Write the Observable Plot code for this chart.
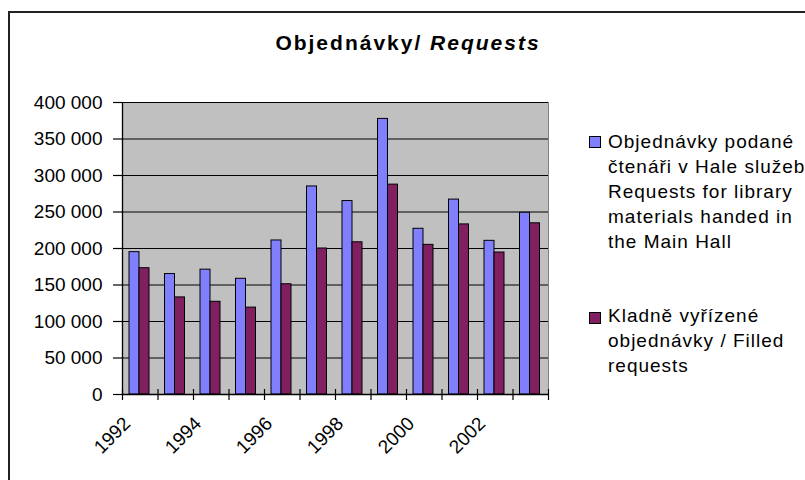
<!DOCTYPE html>
<html>
<head>
<meta charset="utf-8">
<script src="https://cdn.jsdelivr.net/npm/d3@7"></script>
<script src="https://cdn.jsdelivr.net/npm/@observablehq/plot@0.6"></script>
<style>
  body { margin: 0; background: #fff; }
  #wrap { position: relative; width: 805px; height: 480px; overflow: hidden; background: #fff;
          font-family: "Liberation Sans", Arial, sans-serif; color: #000; }
  #border { position: absolute; left: 8px; top: 11px; width: 900px; height: 600px;
            border-left: 2px solid #222; border-top: 2px solid #222; }
  #chart { position: absolute; left: 0; top: 0; }
  #title { position: absolute; left: 0; width: 816px; top: 30px; text-align: center;
           font-size: 21px; font-weight: bold; line-height: 26px; letter-spacing: 2px; }
  .leg { position: absolute; left: 608px; font-size: 19px; line-height: 25px; letter-spacing: 1px; white-space: nowrap; }
  .sw { position: absolute; left: 589px; width: 12px; height: 12px; border: 1px solid #000; box-sizing: border-box; }
</style>
</head>
<body>
<div id="wrap">
  <div id="border"></div>
  <div id="chart"></div>
  <div id="title">Objednávky/ <i>Requests</i></div>
</div>
<script>
const years = [1992, 1993, 1994, 1995, 1996, 1997, 1998, 1999, 2000, 2001, 2002, 2003];
const requested = [195000, 165000, 171000, 158500, 211000, 285000, 265000, 377500, 227000, 267000, 210500, 249000];
const filled = [173000, 133000, 127000, 119000, 151000, 200000, 208500, 287500, 205000, 233000, 194500, 234500];
const labelYears = [1992, 1994, 1996, 1998, 2000, 2002];
const yTicks = [0, 50000, 100000, 150000, 200000, 250000, 300000, 350000, 400000];
const seriesNames = [
  ["Objednávky podané", "čtenáři v Hale služeb", "Requests for library", "materials handed in", "the Main Hall"],
  ["Kladně vyřízené", "objednávky / Filled", "requests"]
];
const seriesColors = ["#8080ff", "#802060"];

const reqData = years.map((y, i) => ({year: y, value: requested[i]}));
const filData = years.map((y, i) => ({year: y, value: filled[i]}));
const boundaries = years.concat([years[years.length - 1] + 1]);
const fmt = d => d3.format(",")(d).replace(/,/g, " ");

const chart = Plot.plot({
  width: 805,
  height: 480,
  marginLeft: 122,
  marginRight: 257,
  marginTop: 102,
  marginBottom: 86,
  style: {fontFamily: "'Liberation Sans', Arial, sans-serif", fontSize: "19px", color: "#000", background: "transparent", overflow: "visible"},
  x: {type: "linear", domain: [1992, 2004], label: null},
  y: {domain: [0, 400000], label: null},
  marks: [
    Plot.frame({fill: "#c0c0c0", stroke: "#808080"}),
    Plot.gridY(yTicks, {stroke: "#000", strokeOpacity: 1, strokeWidth: 1.2}),
    Plot.rectY(reqData, {x: "year", interval: 1, y: "value", fill: seriesColors[0], stroke: "#000", strokeWidth: 1, insetLeft: 7, insetRight: 18.5}),
    Plot.rectY(filData, {x: "year", interval: 1, y: "value", fill: seriesColors[1], stroke: "#000", strokeWidth: 1, insetLeft: 17, insetRight: 8.5}),
    Plot.ruleY([0], {stroke: "#000", strokeWidth: 1.3}),
    Plot.ruleX([1992], {stroke: "#000", strokeWidth: 1.3}),
    Plot.axisY(yTicks, {tickSize: 9, tickPadding: 11, tickFormat: fmt, label: null, strokeWidth: 1.2}),
    Plot.axisX(boundaries, {tickSize: 11, dy: -5, tickFormat: () => "", label: null, strokeWidth: 1.2}),
    Plot.axisX(labelYears.map(y => y + 0.5), {tickSize: 0, tickPadding: 26, tickRotate: -45, dx: -13, tickFormat: d => String(d - 0.5), label: null})
  ]
});
document.getElementById("chart").appendChild(chart);

const wrap = document.getElementById("wrap");
const legTops = [129, 303];
const swTops = [136, 312];
seriesNames.forEach((lines, i) => {
  const sw = document.createElement("div");
  sw.className = "sw";
  sw.style.top = swTops[i] + "px";
  sw.style.background = seriesColors[i];
  wrap.appendChild(sw);
  const t = document.createElement("div");
  t.className = "leg";
  t.style.top = legTops[i] + "px";
  t.innerHTML = lines.join("<br>");
  wrap.appendChild(t);
});
</script>
</body>
</html>
